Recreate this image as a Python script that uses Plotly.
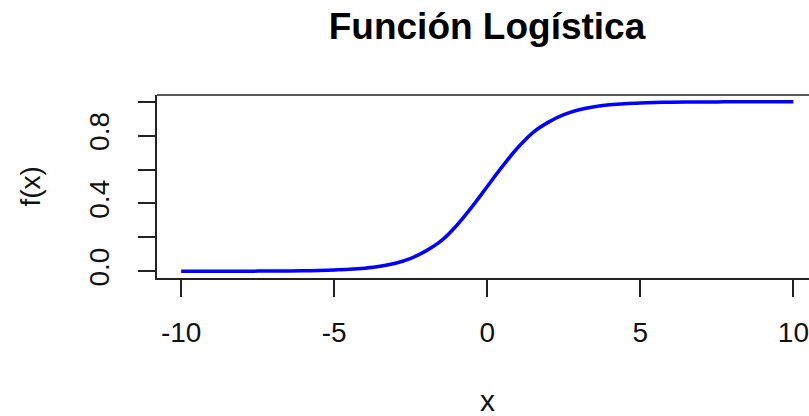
import plotly.graph_objects as go

# Data (logistic curve)
x_vals = [-10, -9.5, -9, -8.5, -8, -7.5, -7, -6.5, -6, -5.5, -5, -4.5, -4, -3.5, -3, -2.5,
          -2, -1.5, -1, -0.5, 0, 0.5, 1, 1.5, 2, 2.5, 3, 3.5, 4, 4.5, 5, 5.5, 6, 6.5,
          7, 7.5, 8, 8.5, 9, 9.5, 10]
y_vals = [0.00005, 0.00007, 0.00012, 0.0002, 0.0003, 0.0006, 0.0009, 0.0015, 0.0025, 0.004,
          0.0067, 0.011, 0.018, 0.029, 0.047, 0.076, 0.12, 0.18, 0.27, 0.38, 0.5, 0.62,
          0.73, 0.82, 0.88, 0.924, 0.953, 0.971, 0.982, 0.989, 0.9933, 0.996, 0.9975,
          0.9985, 0.9991, 0.9994, 0.9997, 0.9998, 0.9999, 0.9999, 0.99995]
x_ticks = [-10, -5, 0, 5, 10]
y_ticks = [0.0, 0.2, 0.4, 0.6, 0.8, 1.0]
y_ticktext = ["0.0", "", "0.4", "", "0.8", ""]

W, H = 809, 416
L, R, T, B = 157, 0, 95, 138
font = "Liberation Sans, Arial, sans-serif"

fig = go.Figure()
fig.add_trace(go.Scatter(x=x_vals, y=y_vals, mode="lines",
                         line=dict(color="#0000ff", width=3.5, shape="spline"),
                         showlegend=False, hoverinfo="skip"))

axis_common = dict(showgrid=False, zeroline=False, showline=True, linecolor="#222",
                   linewidth=1.5, ticks="outside", ticklen=17, tickwidth=1.5,
                   tickcolor="#222", tickfont=dict(family=font, size=28, color="#111"))

fig.update_layout(
    width=W, height=H,
    margin=dict(l=L, r=R, t=T, b=B, pad=0),
    paper_bgcolor="white", plot_bgcolor="white",
    xaxis=dict(range=[-10.79, 10.51], tickvals=x_ticks, ticktext=[str(v) for v in x_ticks],
               ticklabelstandoff=12, **axis_common),
    yaxis=dict(range=[-0.04, 1.04], tickvals=y_ticks, ticktext=y_ticktext, tickangle=-90,
               ticklabelstandoff=18, **axis_common),
    title=dict(text="<b>Función Logística</b>", x=487 / W, xanchor="center",
               yref="container", y=1 - 26 / H, yanchor="middle",
               font=dict(family=font, size=37, color="black")),
)

# top border of the box (right edge is outside the image)
fig.add_shape(type="line", xref="paper", yref="paper", x0=0, x1=1, y0=1, y1=1,
              line=dict(color="#222", width=1.5))

pw = W - L - R
ph = H - T - B
fig.add_annotation(text="f(x)", xref="paper", yref="paper", x=(30 - L) / pw, y=0.5,
                   showarrow=False, textangle=-90, xanchor="center", yanchor="middle",
                   font=dict(family=font, size=28, color="#111"))
fig.add_annotation(text="x", xref="paper", yref="paper", x=(487 - L) / pw,
                   y=(H - B - 400) / ph, showarrow=False, xanchor="center", yanchor="middle",
                   font=dict(family=font, size=30, color="#111"))

fig.write_html("out.html")
